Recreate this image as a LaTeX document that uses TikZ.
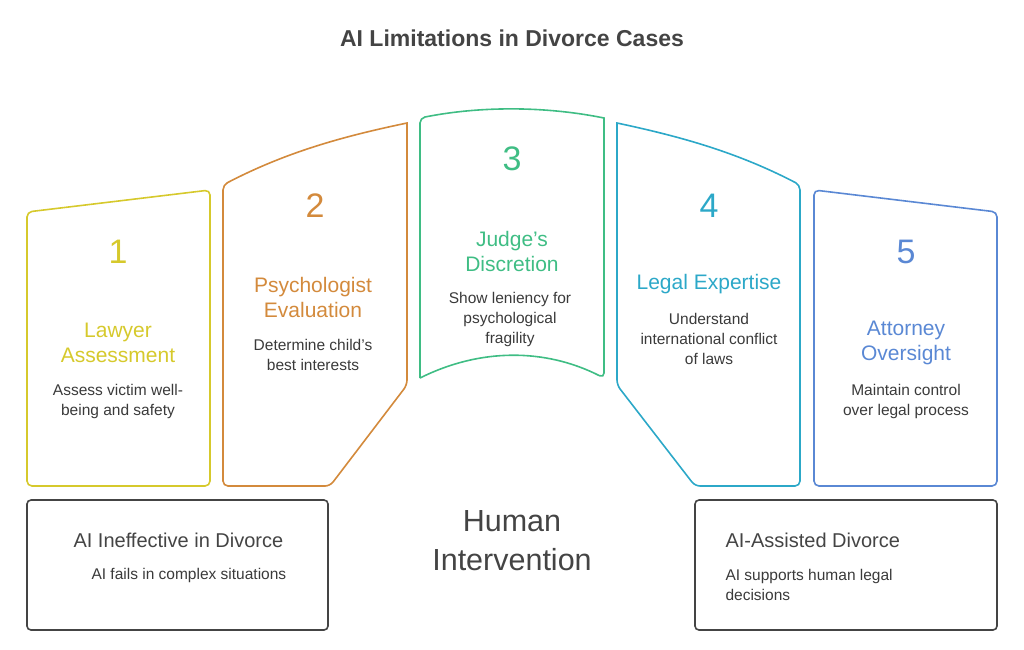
\documentclass[tikz,border=0pt]{standalone}
\usepackage{fontspec}
\setmainfont{Liberation Sans}
\usepackage{tikz}
\usetikzlibrary{positioning}
\definecolor{cyel}{HTML}{D6C92C}
\definecolor{cora}{HTML}{D38A3C}
\definecolor{cgrn}{HTML}{3FBD84}
\definecolor{ctea}{HTML}{2CA8C8}
\definecolor{cblu}{HTML}{5A88D4}
\definecolor{cgry}{HTML}{444444}
\definecolor{ctxt}{HTML}{3A3A3A}
\newcommand{\apos}{\symbol{39}}
\tikzset{
  panel/.style={line width=1.6pt,rounded corners=5pt},
  num/.style={font=\fontsize{34}{34}\selectfont},
  head/.style={font=\fontsize{21}{25}\selectfont,align=center},
  desc/.style={font=\fontsize{15.5}{20}\selectfont,text=ctxt,align=center},
  card/.style={draw=cgry,line width=1.6pt,rounded corners=4pt}
}
\begin{document}
\begin{tikzpicture}[x=1pt,y=-1pt]
\useasboundingbox (0,0) rectangle (1024,649);

    \node[font=\bfseries\fontsize{23}{23}\selectfont,text=cgry] (title) at (512,38) {AI Limitations in Divorce Cases};

    % panels
    \draw[panel,cyel] (27,212) -- (210,190) -- (210,486) -- (27,486) -- cycle;
    \draw[panel,cora] (223,486) -- (223,185) [sharp corners] .. controls (290,150) and (350,135) .. (407,123) [rounded corners=5pt] -- (407,385) -- (330,486) -- cycle;
    \draw[panel,cgrn] (420,378) -- (420,118) [sharp corners] .. controls (480,106) and (545,106) .. (604,118) [rounded corners=5pt] -- (604,378) [sharp corners] .. controls (545,348) and (480,348) .. (420,378);
    \draw[panel,ctea] (800,486) -- (800,185) [sharp corners] .. controls (733,150) and (673,135) .. (617,123) [rounded corners=5pt] -- (617,385) -- (695,486) -- cycle;
    \draw[panel,cblu] (814,190) -- (997,212) -- (997,486) -- (814,486) -- cycle;

    % panel texts
    \node[num,text=cyel] (n1) at (118,252) {1};
    \node[head,text=cyel] (h1) at (118,343) {Lawyer\\Assessment};
    \node[desc] (d1) at (118,401) {Assess victim well-\\being and safety};

    \node[num,text=cora] (n2) at (315,206) {2};
    \node[head,text=cora] (h2) at (313,297) {Psychologist\\Evaluation};
    \node[desc] (d2) at (313,355) {Determine child\apos s\\best interests};

    \node[num,text=cgrn] (n3) at (512,159) {3};
    \node[head,text=cgrn] (h3) at (512,251) {Judge\apos s\\Discretion};
    \node[desc] (d3) at (510,319) {Show leniency for\\psychological\\fragility};

    \node[num,text=ctea] (n4) at (709,206) {4};
    \node[head,text=ctea] (h4) at (709,284) {Legal Expertise};
    \node[desc] (d4) at (709,339) {Understand\\international conflict\\of laws};

    \node[num,text=cblu] (n5) at (906,252) {5};
    \node[head,text=cblu] (h5) at (906,343) {Attorney\\Oversight};
    \node[desc] (d5) at (906,401) {Maintain control\\over legal process};

    % outcome cards
    \draw[card] (27,500) rectangle (328,630);
    \node[font=\fontsize{20}{20}\selectfont,text=cgry,anchor=west] (c1) at (70,540) {AI Ineffective in Divorce};
    \node[desc,anchor=west] (e1) at (88,575) {AI fails in complex situations};

    \draw[card] (695,500) rectangle (997,630);
    \node[font=\fontsize{20}{20}\selectfont,text=cgry,anchor=west] (c2) at (722,540) {AI-Assisted Divorce};
    \node[desc,anchor=north west,align=left] (e2) at (722,566) {AI supports human legal\\decisions};

    \node[font=\fontsize{30.5}{39}\selectfont,text=cgry,align=center] (hum) at (512,541) {Human\\Intervention};
\end{tikzpicture}
\end{document}
